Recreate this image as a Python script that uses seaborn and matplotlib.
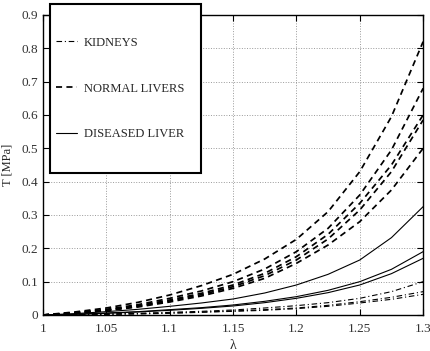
import pandas as pd
import matplotlib
matplotlib.use("Agg")
import matplotlib.pyplot as plt
from matplotlib.patches import Rectangle
import seaborn as sns

# stretch values
lam = [1.0, 1.025, 1.05, 1.075, 1.1, 1.125, 1.15, 1.175, 1.2, 1.225, 1.25, 1.275, 1.3]

kidneys = [
    [0, 0.001, 0.003, 0.005, 0.008, 0.011, 0.015, 0.021, 0.028, 0.037, 0.050, 0.070, 0.100],
    [0, 0.001, 0.002, 0.004, 0.006, 0.009, 0.012, 0.016, 0.021, 0.029, 0.040, 0.053, 0.070],
    [0, 0.001, 0.002, 0.003, 0.005, 0.008, 0.011, 0.014, 0.019, 0.026, 0.036, 0.047, 0.062],
]
normal_livers = [
    [0, 0.009, 0.021, 0.038, 0.060, 0.088, 0.122, 0.168, 0.227, 0.310, 0.430, 0.595, 0.820],
    [0, 0.007, 0.017, 0.031, 0.050, 0.072, 0.100, 0.138, 0.190, 0.260, 0.360, 0.495, 0.680],
    [0, 0.006, 0.015, 0.028, 0.045, 0.065, 0.090, 0.125, 0.175, 0.242, 0.335, 0.450, 0.600],
    [0, 0.006, 0.014, 0.026, 0.042, 0.061, 0.085, 0.118, 0.165, 0.228, 0.315, 0.430, 0.585],
    [0, 0.005, 0.013, 0.024, 0.039, 0.057, 0.080, 0.110, 0.155, 0.210, 0.280, 0.375, 0.500],
]
diseased_liver = [
    [0, 0.004, 0.010, 0.017, 0.026, 0.036, 0.048, 0.066, 0.090, 0.122, 0.165, 0.232, 0.325],
    [0, 0.002, 0.006, 0.010, 0.016, 0.022, 0.030, 0.041, 0.055, 0.074, 0.100, 0.137, 0.190],
    [0, 0.002, 0.005, 0.009, 0.014, 0.020, 0.027, 0.037, 0.050, 0.067, 0.090, 0.124, 0.170],
]

xticks = [1, 1.05, 1.1, 1.15, 1.2, 1.25, 1.3]
xticklabels = ["1", "1.05", "1.1", "1.15", "1.2", "1.25", "1.3"]
yticks = [0, 0.1, 0.2, 0.3, 0.4, 0.5, 0.6, 0.7, 0.8, 0.9]
yticklabels = ["0", "0.1", "0.2", "0.3", "0.4", "0.5", "0.6", "0.7", "0.8", "0.9"]

sns.set_style("ticks")
plt.rcParams["font.family"] = ["Liberation Serif", "DejaVu Serif"]
plt.rcParams["font.size"] = 9

fig = plt.figure(figsize=(4.3, 3.51), dpi=100)
ax = fig.add_axes([0.1, 0.1026, 0.884, 0.8547])

groups = [
    ("KIDNEYS", kidneys, (0, (5, 2.5, 1, 2.5)), 0.8),
    ("NORMAL LIVERS", normal_livers, (0, (3.5, 2.5)), 1.25),
    ("DISEASED LIVER", diseased_liver, "-", 0.8),
]

for name, curves, ls, lw in groups:
    for i, vals in enumerate(curves):
        df = pd.DataFrame({"lam": lam, "T": vals})
        sns.lineplot(data=df, x="lam", y="T", ax=ax, color="black",
                     linestyle=ls, linewidth=lw, legend=False,
                     label=name if i == 0 else None)

ax.set_xlim(1, 1.3)
ax.set_ylim(0, 0.9)
ax.set_xticks(xticks)
ax.set_xticklabels(xticklabels)
ax.set_yticks(yticks)
ax.set_yticklabels(yticklabels)
ax.set_xlabel("λ", fontsize=10, labelpad=3)
ax.set_ylabel("T [MPa]", fontsize=9, labelpad=6)
ax.grid(True, linestyle=":", color="#9a9a9a", linewidth=0.7)
ax.tick_params(direction="in", top=True, right=True, length=4, width=0.8,
               labelsize=9.5, colors="black", labelcolor="#333333")
ax.tick_params(axis="x", pad=6)
for sp in ax.spines.values():
    sp.set_linewidth(1.0)
    sp.set_color("black")

# legend box (drawn as a separate frame, it sticks out above the axes)
frame = Rectangle((0.1163, 0.507), 0.351, 0.4815, transform=fig.transFigure,
                  facecolor="white", edgecolor="black", linewidth=1.5, zorder=5)
fig.add_artist(frame)

handles, labels = ax.get_legend_handles_labels()
leg = fig.legend(handles, labels, loc="upper left", bbox_to_anchor=(0.130, 0.895),
                 frameon=False, borderpad=0, borderaxespad=0, labelspacing=2.7,
                 handlelength=1.7, handletextpad=0.56, fontsize=9)
leg.set_zorder(6)

fig.savefig("out.png", dpi=100)
